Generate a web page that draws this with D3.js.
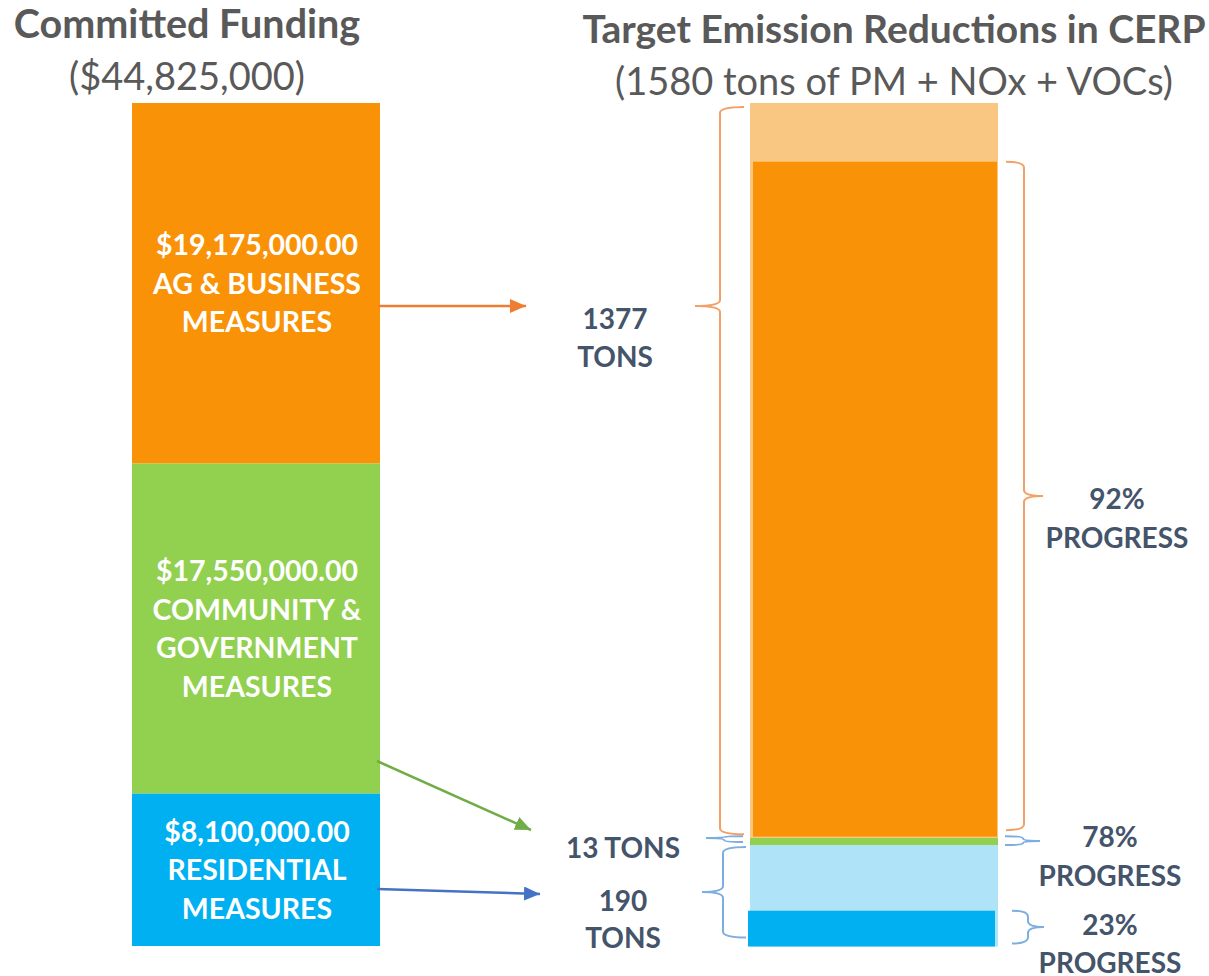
<!DOCTYPE html>
<html>
<head>
<meta charset="utf-8">
<script src="https://cdn.jsdelivr.net/npm/d3@7"></script>
<style>
  html, body { margin: 0; padding: 0; background: #fff; }
  svg { display: block; font-family: Lato, "Open Sans", sans-serif; }
</style>
</head>
<body>
<svg id="chart" width="1209" height="976"></svg>
<script>
// 数据
const fundCategories = ["AG & BUSINESS MEASURES", "COMMUNITY & GOVERNMENT MEASURES", "RESIDENTIAL MEASURES"];
const fundValues = [19175000, 17550000, 8100000];
const fundLabelLines = [["AG & BUSINESS", "MEASURES"], ["COMMUNITY &", "GOVERNMENT", "MEASURES"], ["RESIDENTIAL", "MEASURES"]];
const targetTons = [1377, 13, 190];
const progressPct = [92, 78, 23];
const achievedTons = [1267, 13, 67]; // 按图中深色块高度读出
const totalTons = 1580;
const totalFunding = 44825000;

const lightColors = ["#FAC782", "#92D050", "#AFE4F8"];
const darkColors = ["#FA9207", "#92D050", "#00B0F0"];
const arrowColors = ["#ED7D31", "#70AD47", "#4472C4"];
const braceColors = ["#F2A066", "#7EADE0", "#7EADE0"];
const labelColor = "#44546A";

const svg = d3.select("#chart");

// 比例尺
const yFund = d3.scaleLinear().domain([0, totalFunding]).range([946, 103]);
const yTons = d3.scaleLinear().domain([0, totalTons]).range([946.5, 103]);

const leftX = 132, leftW = 248;
const rightX = 750, rightW = 247;

// 标题
function title(cx, y1, t1, s1, y2, t2, s2) {
    svg.append("text").attr("x", cx).attr("y", y1).attr("text-anchor", "middle")
        .attr("font-size", s1).attr("font-weight", 700).attr("fill", "#595959").text(t1);
    svg.append("text").attr("x", cx).attr("y", y2).attr("text-anchor", "middle")
        .attr("font-size", s2).attr("fill", "#595959").text(t2);
}
title(187, 38, "Committed Funding", 39.5, 90, "($44,825,000)", 38);
title(894, 43, "Target Emission Reductions in CERP", 39, 95, "(1580 tons of PM + NOx + VOCs)", 38);

// 左侧堆叠条（上方为第一个类别）
let fundTop = totalFunding;
const fundStack = fundValues.map((v, i) => {
    const s = { i, hi: fundTop, lo: fundTop - v, value: v };
    fundTop -= v;
    return s;
});

svg.selectAll(".fund").data(fundStack).enter().append("rect")
    .attr("class", "fund")
    .attr("x", leftX).attr("width", leftW)
    .attr("y", d => yFund(d.hi))
    .attr("height", d => yFund(d.lo) - yFund(d.hi))
    .attr("fill", d => darkColors[d.i]);

const fmt = d3.format("$,.2f");
fundStack.forEach(d => {
    const lines = [fmt(d.value)].concat(fundLabelLines[d.i]);
    const cy = (yFund(d.hi) + yFund(d.lo)) / 2;
    const lh = 38.5;
    lines.forEach((t, k) => {
        svg.append("text")
            .attr("x", leftX + leftW / 2 + 1)
            .attr("y", cy + (k - (lines.length - 1) / 2) * lh + 10.5)
            .attr("text-anchor", "middle")
            .attr("font-size", 28.5).attr("font-weight", 700).attr("fill", "#fff")
            .text(t);
    });
});

// 右侧目标条
let tonTop = totalTons;
const tonStack = targetTons.map((v, i) => {
    const s = { i, hi: tonTop, lo: tonTop - v, value: v, done: achievedTons[i] };
    tonTop -= v;
    return s;
});

svg.selectAll(".target").data(tonStack).enter().append("rect")
    .attr("class", "target")
    .attr("x", rightX).attr("width", rightW + 1)
    .attr("y", d => yTons(d.hi))
    .attr("height", d => yTons(d.lo) - yTons(d.hi))
    .attr("fill", d => lightColors[d.i]);

// 已完成部分（从每段底部向上）
const doneInset = [[3, 0], [0, 0], [-2, -2]];
svg.selectAll(".done").data(tonStack).enter().append("rect")
    .attr("class", "done")
    .attr("x", d => rightX + doneInset[d.i][0])
    .attr("width", d => rightW - doneInset[d.i][0] + doneInset[d.i][1])
    .attr("y", d => yTons(d.lo + d.done))
    .attr("height", d => yTons(d.lo) - yTons(d.lo + d.done) - (d.i === 0 ? 1.5 : 0))
    .attr("fill", d => darkColors[d.i]);

// 花括号
function brace(edgeX, spineX, tipX, y1, tipY, y2, color) {
    const r1 = Math.min(6, (tipY - y1) / 2), r2 = Math.min(6, (y2 - tipY) / 2);
    const p = d3.path();
    p.moveTo(edgeX, y1);
    p.quadraticCurveTo(spineX, y1, spineX, y1 + r1);
    p.lineTo(spineX, tipY - r1);
    p.quadraticCurveTo(spineX, tipY, tipX, tipY);
    p.quadraticCurveTo(spineX, tipY, spineX, tipY + r2);
    p.lineTo(spineX, y2 - r2);
    p.quadraticCurveTo(spineX, y2, edgeX, y2);
    svg.append("path").attr("d", p.toString())
        .attr("fill", "none").attr("stroke", color).attr("stroke-width", 2);
}

const leftBraces = [
    { i: 0, edge: 744, spine: 720, tip: 695, tipY: 306, pad1: 4, pad2: -4 },
    { i: 1, edge: 743, spine: 724, tip: 706, tipY: 838, pad1: -2, pad2: -3 },
    { i: 2, edge: 746, spine: 723, tip: 702, tipY: 892, pad1: 2, pad2: -9 }
];
leftBraces.forEach(b => {
    const d = tonStack[b.i];
    brace(b.edge, b.spine, b.tip, yTons(d.hi) + b.pad1, b.tipY, yTons(d.lo) + b.pad2, braceColors[b.i]);
});

const rightBraces = [
    { i: 0, edge: 1006, spine: 1024, tip: 1043, tipY: 496, pad1: 0, pad2: -8 },
    { i: 1, edge: 1005, spine: 1023, tip: 1040, tipY: 841, pad1: -2, pad2: 0 },
    { i: 2, edge: 1012, spine: 1028, tip: 1044, tipY: 927, pad1: 0, pad2: -3 }
];
rightBraces.forEach(b => {
    const d = tonStack[b.i];
    brace(b.edge, b.spine, b.tip, yTons(d.lo + d.done) + b.pad1, b.tipY, yTons(d.lo) + b.pad2, braceColors[b.i]);
});

// 箭头
const defs = svg.append("defs");
arrowColors.forEach((c, i) => {
    defs.append("marker")
        .attr("id", "arrow" + i)
        .attr("markerUnits", "userSpaceOnUse")
        .attr("viewBox", "0 0 16 14")
        .attr("refX", 16).attr("refY", 7)
        .attr("markerWidth", 16).attr("markerHeight", 14)
        .attr("orient", "auto")
        .append("path").attr("d", "M0,0 L16,7 L0,14 Z").attr("fill", c);
});
const arrows = [
    { i: 0, x1: 378, y1: 306, x2: 526, y2: 306 },
    { i: 1, x1: 377, y1: 761, x2: 531, y2: 830 },
    { i: 2, x1: 377, y1: 889, x2: 540, y2: 894 }
];
svg.selectAll(".arrow").data(arrows).enter().append("line")
    .attr("class", "arrow")
    .attr("x1", d => d.x1).attr("y1", d => d.y1)
    .attr("x2", d => d.x2).attr("y2", d => d.y2)
    .attr("stroke", d => arrowColors[d.i]).attr("stroke-width", 2.5)
    .attr("marker-end", d => `url(#arrow${d.i})`);

// 标注文字
function label(cx, lines) {
    lines.forEach(([y, t]) => {
        svg.append("text").attr("x", cx).attr("y", y).attr("text-anchor", "middle")
            .attr("font-size", 28).attr("font-weight", 700).attr("fill", labelColor).text(t);
    });
}
label(615, [[329, `${targetTons[0]}`], [367, "TONS"]]);
label(623, [[858, `${targetTons[1]} TONS`]]);
label(623, [[911, `${targetTons[2]}`], [948, "TONS"]]);
label(1117, [[509, `${progressPct[0]}%`], [548, "PROGRESS"]]);
label(1110, [[847, `${progressPct[1]}%`], [886, "PROGRESS"]]);
label(1110, [[935, `${progressPct[2]}%`], [973, "PROGRESS"]]);
</script>
</body>
</html>
